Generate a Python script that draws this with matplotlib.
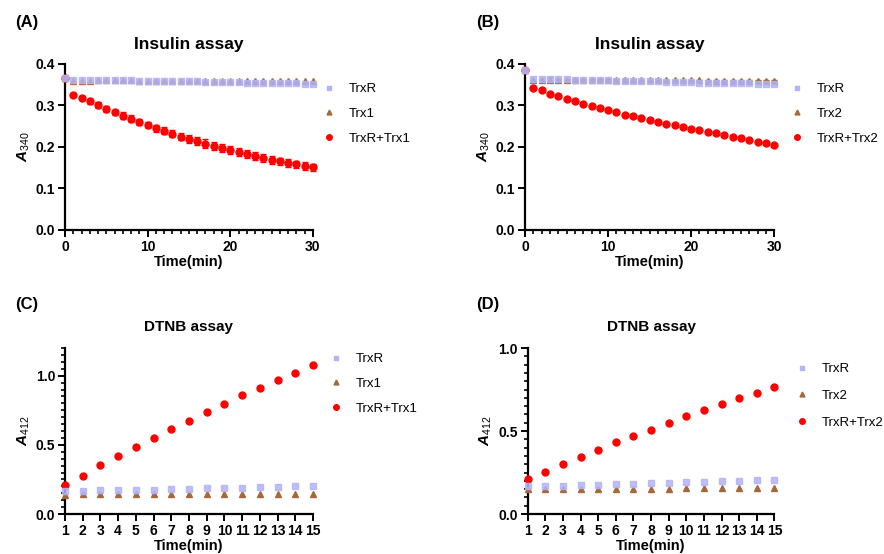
import matplotlib
matplotlib.use("Agg")
import matplotlib.pyplot as plt
from matplotlib.ticker import MultipleLocator
from matplotlib.lines import Line2D

plt.rcParams['font.family'] = ['Liberation Sans', 'DejaVu Sans']
plt.rcParams['mathtext.fontset'] = 'custom'
plt.rcParams['mathtext.it'] = 'Liberation Sans:italic:bold'
plt.rcParams['mathtext.rm'] = 'Liberation Sans'

# ---- data ----
t_ins = list(range(0, 31))
t_dtnb = list(range(1, 16))

A_trxr = [0.365, 0.362, 0.362, 0.362, 0.362, 0.362, 0.361, 0.361, 0.361, 0.360, 0.360,
          0.360, 0.359, 0.359, 0.358, 0.358, 0.358, 0.357, 0.357, 0.356, 0.356,
          0.356, 0.355, 0.355, 0.354, 0.354, 0.354, 0.353, 0.353, 0.352, 0.352]
A_trx1 = [0.365, 0.360, 0.360, 0.360, 0.361, 0.361, 0.361, 0.361, 0.361, 0.360, 0.360,
          0.360, 0.360, 0.360, 0.360, 0.360, 0.360, 0.360, 0.360, 0.360, 0.359,
          0.359, 0.359, 0.359, 0.359, 0.359, 0.359, 0.358, 0.358, 0.358, 0.358]
A_mix = [0.365, 0.326, 0.318, 0.310, 0.301, 0.291, 0.283, 0.275, 0.268, 0.260, 0.253,
         0.245, 0.239, 0.232, 0.225, 0.219, 0.214, 0.208, 0.203, 0.198, 0.192,
         0.187, 0.183, 0.178, 0.173, 0.169, 0.165, 0.161, 0.158, 0.154, 0.151]
A_mix_err = [0.002, 0.004, 0.005, 0.006, 0.007, 0.007, 0.007, 0.008, 0.008, 0.008, 0.008,
             0.009, 0.009, 0.009, 0.009, 0.009, 0.010, 0.010, 0.010, 0.010, 0.010,
             0.010, 0.009, 0.009, 0.009, 0.009, 0.009, 0.009, 0.009, 0.009, 0.009]

B_trxr = [0.385, 0.363, 0.363, 0.363, 0.363, 0.363, 0.362, 0.362, 0.362, 0.361, 0.361,
          0.360, 0.360, 0.359, 0.359, 0.358, 0.358, 0.357, 0.357, 0.356, 0.356,
          0.355, 0.355, 0.355, 0.354, 0.354, 0.353, 0.353, 0.352, 0.352, 0.351]
B_trx2 = [0.385, 0.361, 0.361, 0.362, 0.362, 0.362, 0.362, 0.362, 0.362, 0.362, 0.362,
          0.362, 0.362, 0.361, 0.361, 0.361, 0.361, 0.361, 0.361, 0.361, 0.361,
          0.361, 0.360, 0.360, 0.360, 0.360, 0.360, 0.360, 0.360, 0.360, 0.360]
B_trx2_err = [0.0, 0.001, 0.001, 0.006, 0.001, 0.001, 0.001, 0.001, 0.001, 0.001, 0.001,
              0.001, 0.001, 0.001, 0.001, 0.001, 0.001, 0.001, 0.001, 0.001, 0.001,
              0.001, 0.001, 0.001, 0.001, 0.001, 0.001, 0.001, 0.001, 0.001, 0.001]
B_mix = [0.385, 0.342, 0.336, 0.328, 0.322, 0.316, 0.310, 0.304, 0.299, 0.293, 0.288,
         0.283, 0.278, 0.274, 0.270, 0.265, 0.261, 0.256, 0.252, 0.247, 0.244,
         0.240, 0.236, 0.233, 0.229, 0.225, 0.221, 0.217, 0.213, 0.210, 0.204]

C_trxr = [0.165, 0.167, 0.170, 0.172, 0.175, 0.177, 0.180, 0.183, 0.185, 0.188,
          0.191, 0.194, 0.197, 0.200, 0.203]
C_trx1 = [0.140, 0.141, 0.141, 0.142, 0.142, 0.142, 0.143, 0.143, 0.143, 0.143,
          0.144, 0.144, 0.144, 0.145, 0.145]
C_mix = [0.210, 0.275, 0.353, 0.420, 0.486, 0.551, 0.614, 0.676, 0.737, 0.797,
         0.857, 0.913, 0.969, 1.022, 1.077]

D_trxr = [0.169, 0.167, 0.171, 0.173, 0.175, 0.178, 0.181, 0.184, 0.187, 0.190,
          0.193, 0.196, 0.199, 0.202, 0.205]
D_trx2 = [0.150, 0.151, 0.152, 0.152, 0.152, 0.153, 0.153, 0.153, 0.153, 0.154,
          0.154, 0.154, 0.154, 0.155, 0.155]
D_mix = [0.209, 0.254, 0.300, 0.344, 0.386, 0.431, 0.471, 0.509, 0.549, 0.588,
         0.628, 0.662, 0.696, 0.732, 0.767]

LAV = '#b3b3f6'
BROWN = '#a5683a'
RED = '#ff0000'


def style_axes(ax):
    for side in ('top', 'right'):
        ax.spines[side].set_visible(False)
    for side in ('left', 'bottom'):
        ax.spines[side].set_linewidth(1.6)
    ax.tick_params(which='major', direction='out', length=5, width=1.4, labelsize=10, pad=2)
    ax.tick_params(which='minor', direction='out', length=3, width=1.2)
    for lab in ax.get_xticklabels() + ax.get_yticklabels():
        lab.set_fontweight('bold')


def plot_panel(ax, t, trxr, trx, mix, trx_name, mix_err=None, trx_err=None, ms=5):
    ax.errorbar(t, mix, yerr=mix_err, fmt='o', color=RED, ms=ms, capsize=2,
                elinewidth=1, clip_on=False, zorder=3)
    ax.errorbar(t, trx, yerr=trx_err, fmt='^', color=BROWN, ms=ms - 1, capsize=2,
                elinewidth=1, clip_on=False, zorder=4)
    ax.plot(t, trxr, 's', color=LAV, ms=ms - 1, alpha=0.85, clip_on=False, zorder=5)
    handles = [
        Line2D([], [], ls='none', marker='s', color=LAV, ms=ms - 1.5),
        Line2D([], [], ls='none', marker='^', color=BROWN, ms=ms - 1.5),
        Line2D([], [], ls='none', marker='o', color=RED, ms=ms - 1),
    ]
    labels = ['TrxR', trx_name, 'TrxR+' + trx_name]
    return handles, labels


fig = plt.figure(figsize=(8.84, 5.54), dpi=100)

axA = fig.add_axes([0.0735, 0.585, 0.2805, 0.2996])
axB = fig.add_axes([0.594, 0.585, 0.2817, 0.2996])
axC = fig.add_axes([0.0735, 0.0722, 0.2805, 0.2996])
axD = fig.add_axes([0.597, 0.0722, 0.279, 0.2996])

panels = [
    (axA, t_ins, A_trxr, A_trx1, A_mix, 'Trx1', A_mix_err, None, 'Insulin assay', '(A)'),
    (axB, t_ins, B_trxr, B_trx2, B_mix, 'Trx2', None, B_trx2_err, 'Insulin assay', '(B)'),
    (axC, t_dtnb, C_trxr, C_trx1, C_mix, 'Trx1', None, None, 'DTNB assay', '(C)'),
    (axD, t_dtnb, D_trxr, D_trx2, D_mix, 'Trx2', None, None, 'DTNB assay', '(D)'),
]

for ax, t, trxr, trx, mix, name, merr, terr, title, tag in panels:
    handles, labels = plot_panel(ax, t, trxr, trx, mix, name, merr, terr)
    if title.startswith('Insulin'):
        ax.set_xlim(0, 30)
        ax.set_ylim(0, 0.4)
        ax.xaxis.set_major_locator(MultipleLocator(10))
        ax.xaxis.set_minor_locator(MultipleLocator(1))
        ax.yaxis.set_major_locator(MultipleLocator(0.1))
        ax.set_ylabel(r'$\mathit{A}_{\mathrm{340}}$', fontsize=11, labelpad=3)
        ax.set_title(title, fontsize=12.5, fontweight='bold', pad=11)
        leg_anchor = (1.04, 0.885) if ax is axA else (1.065, 0.885)
        spacing = 0.95
        tag_y = 1 - 22 / 554
    else:
        ax.set_xlim(1, 15)
        ax.set_xticks(t)
        ymax = 1.2 if ax is axC else 1.0
        ax.set_ylim(0, ymax)
        ax.yaxis.set_major_locator(MultipleLocator(0.5))
        ax.yaxis.set_minor_locator(MultipleLocator(0.05))
        ax.set_ylabel(r'$\mathit{A}_{\mathrm{412}}$', fontsize=11, labelpad=3)
        ax.set_title(title, fontsize=11, fontweight='bold', pad=12)
        leg_anchor = (1.065, 0.97) if ax is axC else (1.085, 0.91)
        spacing = 0.95 if ax is axC else 1.1
        tag_y = 1 - 305 / 554
    ax.set_xlabel('Time(min)', fontsize=10.5, fontweight='bold', labelpad=1)
    style_axes(ax)
    ax.legend(handles, labels, loc='upper left', bbox_to_anchor=leg_anchor,
              frameon=False, fontsize=9.5, handlelength=1.0, handletextpad=1.0,
              borderpad=0, borderaxespad=0, labelspacing=spacing)
    bb = ax.get_position()
    tag_x = 15 / 884 if ax in (axA, axC) else 476 / 884
    fig.text(tag_x, tag_y, tag, fontsize=12, fontweight='bold', va='center', ha='left')

fig.savefig('out.png', dpi=100)
